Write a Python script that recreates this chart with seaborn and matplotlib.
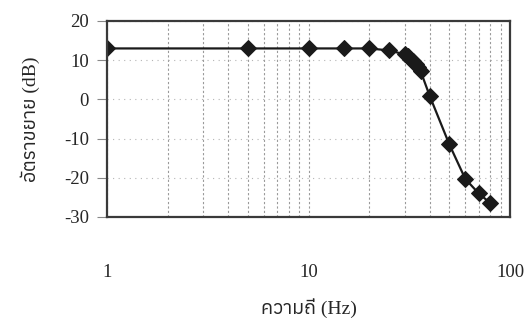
import numpy as np
import pandas as pd
import matplotlib
matplotlib.use("Agg")
import matplotlib.pyplot as plt
import seaborn as sns
from matplotlib import font_manager
from matplotlib.ft2font import FT2Font
from matplotlib.ticker import LogLocator, FixedLocator, NullFormatter

# Data
freq_hz = [1, 5, 10, 15, 20, 25, 30, 31, 32, 33, 34, 35, 36, 40, 50, 60, 70, 80]
gain_db = [13.0, 13.0, 13.0, 13.0, 13.0, 12.5, 11.5, 11.0, 10.4, 9.8, 9.0, 8.2, 7.2,
           0.8, -11.5, -20.3, -24.0, -26.5]
y_ticks = [-30, -20, -10, 0, 10, 20]
x_ticks = [1, 10, 100]
x_label = "ความถี่ (Hz)"
y_label = "อัตราขยาย (dB)"

df = pd.DataFrame({"freq": freq_hz, "gain": gain_db})

# find a font that has Thai glyphs
thai_fonts = []
for f in font_manager.fontManager.ttflist:
    try:
        if 0x0E04 in FT2Font(f.fname).get_charmap():
            thai_fonts.append(f.name)
    except Exception:
        pass
thai_fonts = sorted(set(thai_fonts))

sns.set_style("white")
plt.rcParams["font.family"] = ["Liberation Serif"] + thai_fonts + ["DejaVu Sans"]

fig = plt.figure(figsize=(5.31, 3.27), dpi=100)
ax = fig.add_axes([0.2015, 0.3364, 0.7590, 0.5994])

sns.lineplot(data=df, x="freq", y="gain", ax=ax, color="#1a1a1a", linewidth=1.6,
             marker="D", markersize=8, markeredgecolor="#1a1a1a", markerfacecolor="#1a1a1a")

ax.set_xscale("log")
ax.set_xlim(1, 100)
ax.set_ylim(-30, 20)
ax.xaxis.set_major_locator(FixedLocator(x_ticks))
ax.xaxis.set_minor_locator(LogLocator(base=10, subs=np.arange(2, 10)))
ax.xaxis.set_minor_formatter(NullFormatter())
ax.set_xticks(x_ticks)
ax.set_xticklabels([str(v) for v in x_ticks])
ax.set_yticks(y_ticks)
ax.set_yticklabels([str(v) for v in y_ticks])

ax.grid(True, which="both", axis="x", color="#9a9a9a", linestyle=(0, (2, 2)), linewidth=0.8)
ax.grid(True, which="major", axis="y", color="#b5b5b5", linestyle=(0, (1, 4)), linewidth=0.8)

ax.tick_params(axis="x", which="both", length=0, pad=34, labelsize=13.5)
ax.tick_params(axis="y", length=7, width=0.8, color="#888888", direction="out",
               left=True, pad=6, labelsize=13.5)

for s in ax.spines.values():
    s.set_color("#3a3a3a")
    s.set_linewidth(1.6)

ax.set_xlabel(x_label, fontsize=14, labelpad=12)
ax.set_ylabel(y_label, fontsize=14, labelpad=17)

fig.savefig("out.png", dpi=100)
